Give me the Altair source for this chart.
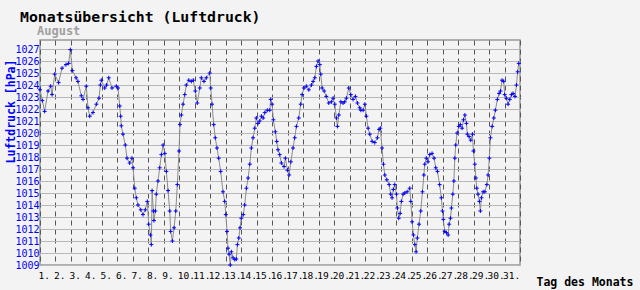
import altair as alt
import pandas as pd

# time in days since 1 Aug 00:00, pressure in hPa
t = [0.00, 0.15, 0.30, 0.52, 0.69, 0.78, 0.95, 1.20, 1.42, 1.68, 1.85, 1.96, 2.09, 2.33, 2.45, 2.67, 2.78, 2.99,
     3.10, 3.21, 3.42, 3.64, 3.81, 3.90, 3.96, 4.18, 4.30, 4.44, 4.65, 4.93, 5.04, 5.15, 5.21, 5.25, 5.36, 5.51,
     5.62, 5.79, 5.94, 6.01, 6.12, 6.22, 6.33, 6.51, 6.65, 6.80, 6.93, 7.02, 7.13, 7.19, 7.24, 7.32, 7.36, 7.45,
     7.51, 7.62, 7.73, 7.84, 7.95, 8.06, 8.16, 8.27, 8.38, 8.44, 8.55, 8.66, 8.77, 8.87, 8.98, 9.04, 9.13, 9.24,
     9.35, 9.45, 9.61, 9.77, 9.90, 10.03, 10.16, 10.32, 10.42, 10.59, 10.74, 10.96, 11.03, 11.11, 11.22, 11.32,
     11.43, 11.54, 11.67, 11.82, 11.93, 12.00, 12.08, 12.14, 12.21, 12.29, 12.36, 12.47, 12.58, 12.68, 12.75,
     12.84, 12.92, 13.00, 13.13, 13.22, 13.33, 13.44, 13.55, 13.65, 13.76, 13.87, 13.97, 14.08, 14.19, 14.30,
     14.41, 14.52, 14.68, 14.84, 14.90, 14.99, 15.07, 15.20, 15.29, 15.37, 15.48, 15.59, 15.76, 15.85, 15.98,
     16.09, 16.20, 16.34, 16.45, 16.56, 16.71, 16.84, 16.93, 17.05, 17.20, 17.36, 17.53, 17.64, 17.75, 17.85,
     17.96, 18.07, 18.13, 18.22, 18.35, 18.49, 18.65, 18.82, 18.93, 19.04, 19.14, 19.21, 19.30, 19.43, 19.57,
     19.68, 19.79, 19.94, 20.07, 20.22, 20.37, 20.50, 20.65, 20.72, 20.87, 20.98, 21.08, 21.19, 21.30, 21.45,
     21.62, 21.79, 21.90, 21.98, 22.09, 22.18, 22.27, 22.40, 22.55, 22.65, 22.74, 22.82, 22.91, 23.02, 23.08,
     23.17, 23.26, 23.34, 23.45, 23.56, 23.71, 23.88, 23.95, 24.03, 24.12, 24.21, 24.29, 24.37, 24.48, 24.59,
     24.70, 24.79, 24.85, 24.95, 25.06, 25.17, 25.32, 25.45, 25.56, 25.67, 25.81, 25.92, 25.99, 26.05, 26.14,
     26.25, 26.36, 26.42, 26.51, 26.57, 26.66, 26.73, 26.79, 26.85, 26.94, 27.05, 27.15, 27.26, 27.35, 27.44,
     27.54, 27.60, 27.71, 27.82, 27.93, 27.99, 28.08, 28.15, 28.21, 28.29, 28.38, 28.44, 28.51, 28.62, 28.73,
     28.86, 28.94, 29.02, 29.09, 29.20, 29.31, 29.41, 29.54, 29.65, 29.74, 29.84, 29.95, 30.01, 30.12, 30.23,
     30.34, 30.45, 30.55, 30.68, 30.77, 30.85, 30.92]
p = [1023.6, 1022.7, 1021.8, 1023.5, 1023.9, 1023.2, 1024.9, 1024.2, 1025.4, 1025.7, 1025.8, 1026.95, 1025.2,
     1024.6, 1024.3, 1023.1, 1022.8, 1023.9, 1022.1, 1021.4, 1021.7, 1022.4, 1022.9, 1024.0, 1024.4, 1023.75,
     1024.0, 1024.6, 1023.75, 1023.9, 1023.75, 1022.25, 1021.4, 1020.6, 1019.9, 1019.0, 1017.9, 1017.5, 1017.9,
     1017.1, 1015.4, 1014.6, 1014.0, 1013.6, 1013.2, 1013.6, 1014.3, 1012.4, 1011.5, 1010.7, 1015.2, 1013.5,
     1012.7, 1013.5, 1014.9, 1016.0, 1017.1, 1018.2, 1019.0, 1018.3, 1016.8, 1015.2, 1013.5, 1011.8, 1011.0,
     1012.1, 1013.5, 1015.7, 1018.5, 1020.7, 1021.5, 1022.4, 1023.2, 1024.0, 1024.4, 1024.3, 1024.4, 1023.5,
     1022.5, 1023.75, 1024.6, 1024.3, 1024.6, 1025.0, 1023.75, 1022.4, 1020.7, 1019.6, 1018.75, 1017.9, 1016.8,
     1015.1, 1014.3, 1013.2, 1011.8, 1010.4, 1009.9, 1009.0, 1010.1, 1009.6, 1009.45, 1009.5, 1010.7, 1011.25,
     1012.1, 1012.9, 1013.2, 1014.0, 1015.4, 1016.25, 1017.4, 1018.75, 1019.6, 1020.4, 1021.25, 1020.8, 1021.0,
     1021.4, 1021.25, 1021.7, 1021.9, 1021.9, 1022.8, 1022.4, 1021.1, 1020.1, 1019.3, 1018.6, 1018.2, 1017.5,
     1017.2, 1017.9, 1016.9, 1016.5, 1017.6, 1018.75, 1019.6, 1020.55, 1021.25, 1022.4, 1023.2, 1023.75, 1023.9,
     1023.6, 1024.0, 1024.3, 1024.6, 1025.55, 1026.0, 1025.7, 1024.9, 1023.75, 1023.5, 1023.05, 1022.5, 1022.6,
     1022.9, 1022.4, 1021.25, 1020.55, 1021.5, 1022.6, 1022.5, 1022.6, 1022.9, 1023.75, 1023.2, 1022.8, 1023.05,
     1022.5, 1022.1, 1021.9, 1021.9, 1022.4, 1021.4, 1020.4, 1019.9, 1019.3, 1019.2, 1019.6, 1020.3, 1020.4,
     1018.75, 1017.4, 1016.5, 1016.1, 1015.7, 1014.9, 1014.6, 1015.3, 1015.7, 1014.9, 1013.75, 1012.9, 1013.3,
     1014.3, 1014.9, 1015.0, 1015.1, 1015.4, 1014.3, 1012.6, 1011.5, 1010.7, 1010.1, 1011.25, 1012.4, 1013.5,
     1015.1, 1016.5, 1017.4, 1017.9, 1017.6, 1018.2, 1018.3, 1017.9, 1017.1, 1016.8, 1015.7, 1014.6, 1013.5,
     1012.8, 1011.8, 1011.7, 1011.5, 1012.4, 1012.9, 1013.75, 1014.9, 1016.0, 1017.9, 1019.0, 1020.0, 1020.55,
     1020.7, 1020.4, 1021.1, 1021.5, 1020.8, 1019.9, 1019.7, 1019.4, 1019.9, 1018.5, 1017.4, 1016.25, 1015.4,
     1014.9, 1014.3, 1013.5, 1014.6, 1015.1, 1015.1, 1015.7, 1016.5, 1017.9, 1019.6, 1020.55, 1021.25, 1021.9,
     1022.8, 1023.3, 1023.5, 1024.4, 1024.3, 1023.2, 1022.9, 1022.4, 1022.8, 1023.2, 1023.3, 1023.05, 1024.0,
     1025.1, 1025.8]

day_ticks = list(range(0, 32))
hpa_ticks = list(range(1009, 1028))

df = pd.DataFrame({"t": t, "p": p})
MONO = "DejaVu Sans Mono"

xaxis = alt.Axis(values=day_ticks, ticks=False, domain=False,
                 labelExpr="datum.value < 31 ? (datum.value + 1) + '.' : ''",
                 labelAlign="left", labelOffset=-2, labelPadding=5, labelBaseline="top",
                 labelFont=MONO, labelFontSize=9.5, labelColor="black", labelOverlap=False,
                 labelFlush=False,
                 grid=True, gridColor="#555555", gridDash=[5, 4], gridWidth=1,
                 title="Tag des Monats", titleFont=MONO, titleFontSize=11.5,
                 titleFontWeight="bold", titleColor="black", titleX=496, titleY=20,
                 titleAlign="left", titleBaseline="alphabetic", titleAngle=0)
yaxis = alt.Axis(values=hpa_ticks, ticks=False, domain=False, format="d",
                 labelFont=MONO, labelFontSize=10, labelColor="#0000ff", labelPadding=1,
                 labelOverlap=False, labelFlush=False,
                 grid=True, gridColor="#b8b8b8", gridWidth=1.2,
                 title="Luftdruck [hPa]", titleFont=MONO, titleFontSize=11.5,
                 titleFontWeight="bold", titleColor="#0000ff", titleX=-29, titleY=71,
                 titleAngle=270, titleAlign="center", titleBaseline="middle")
xscale = alt.Scale(domain=[0, 31], nice=False, zero=False)
yscale = alt.Scale(domain=[1009, 1027.75], nice=False, zero=False)

base = alt.Chart(df)
line = base.mark_line(color="#8c8c8c", strokeWidth=1).encode(
    x=alt.X("t:Q", scale=xscale, axis=xaxis),
    y=alt.Y("p:Q", scale=yscale, axis=yaxis))
pts = base.mark_point(shape="M-1,0H1M0,-1V1", filled=False, color="#0000ff",
                      strokeWidth=1, size=16, opacity=1).encode(
    x=alt.X("t:Q", scale=xscale, axis=xaxis),
    y=alt.Y("p:Q", scale=yscale, axis=yaxis))

title_df = pd.DataFrame({"s": ["Monatsübersicht (Luftdruck)"]})
sub_df = pd.DataFrame({"s": ["August"]})
title = alt.Chart(title_df).mark_text(font=MONO, fontSize=14.8, fontWeight="bold", color="black",
                                      align="left", baseline="alphabetic").encode(
    text="s:N", x=alt.value(-20), y=alt.value(-18))
sub = alt.Chart(sub_df).mark_text(font=MONO, fontSize=12, fontWeight="bold", color="#a0a0a0",
                                  align="left", baseline="alphabetic").encode(
    text="s:N", x=alt.value(-3), y=alt.value(-5))

chart = alt.layer(line, pts, title, sub).properties(
    width=480, height=225,
    autosize=alt.AutoSizeParams(type="none"),
    padding={"left": 40, "top": 40, "right": 120, "bottom": 25},
    background="#f3f3f3",
).configure_view(stroke="#999999", strokeWidth=1.5, fill="#f3f3f3")

chart.save("out.html", embed_options={"renderer": "svg", "actions": False})
